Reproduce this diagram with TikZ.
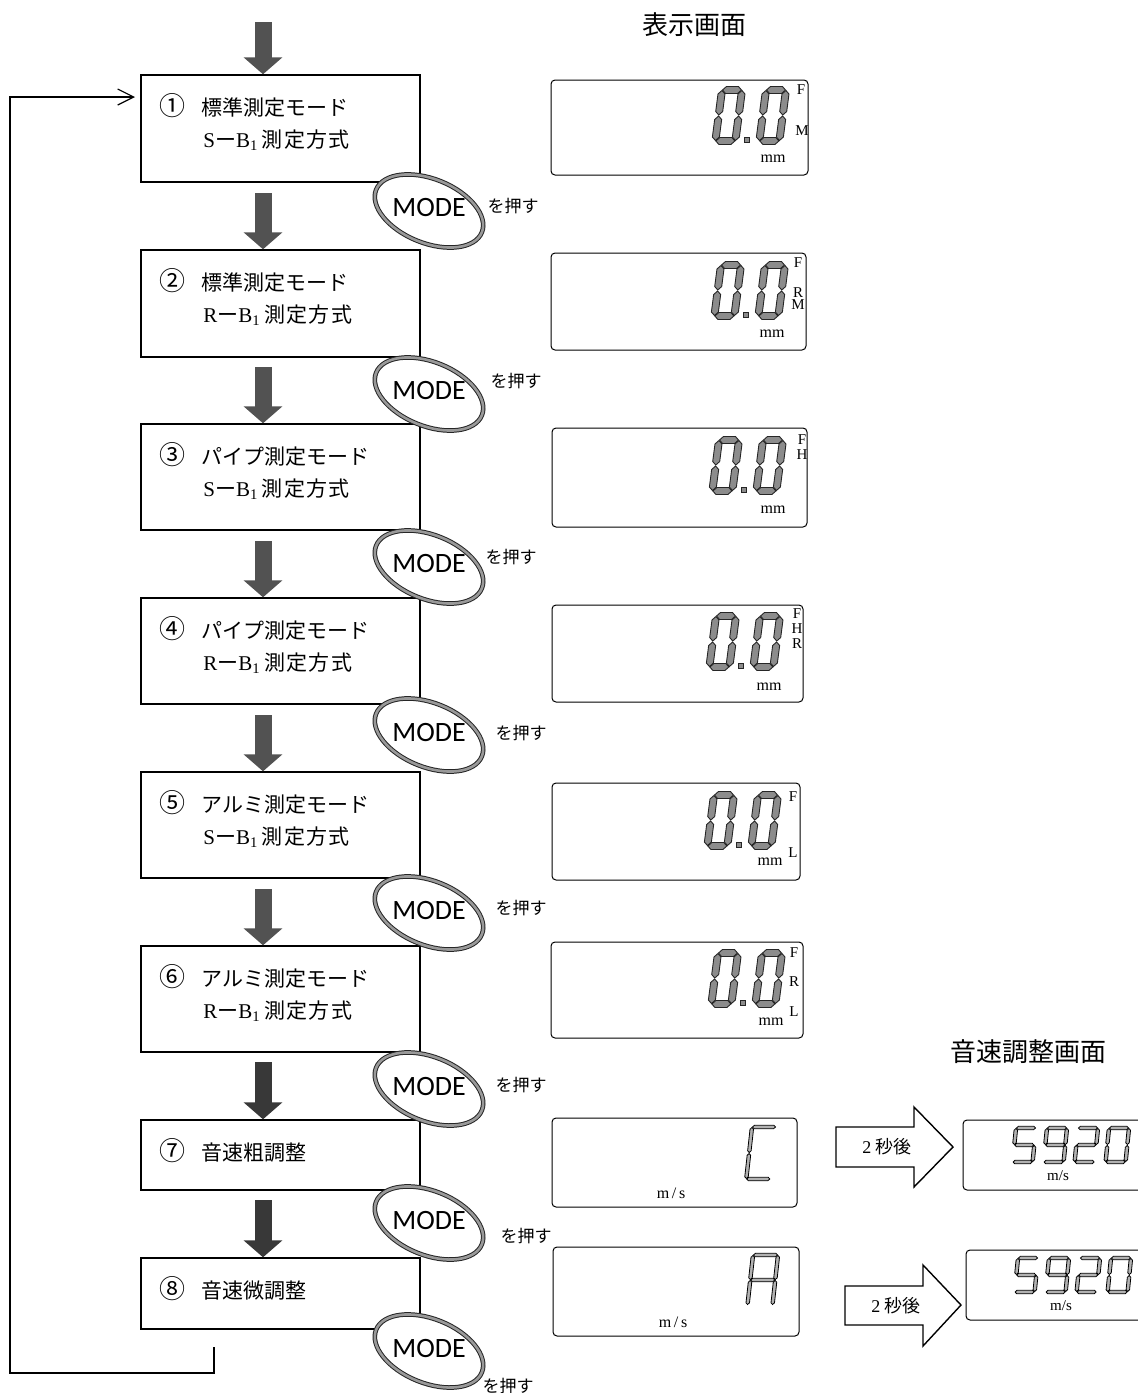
\documentclass[tikz,border=0pt]{standalone}
\usepackage{fontspec}
\setmainfont{Liberation Serif}
\newfontfamily\jp{Noto Sans CJK JP}
\newfontfamily\modefont{Carlito}
\usetikzlibrary{arrows.meta,shapes.geometric}

% seven-segment helpers
\newcommand\hsg[3]{\filldraw[segsty] (#1,#3) -- (#1+\sgh,#3-\sgh) -- (#2-\sgh,#3-\sgh) -- (#2,#3) -- (#2-\sgh,#3+\sgh) -- (#1+\sgh,#3+\sgh) -- cycle;}
\newcommand\vsg[3]{\filldraw[segsty] (#1,#2) -- (#1+\sgh,#2+\sgh) -- (#1+\sgh,#3-\sgh) -- (#1,#3) -- (#1-\sgh,#3-\sgh) -- (#1-\sgh,#2+\sgh) -- cycle;}
\def\sgsa{\hsg{\sgg}{\dW-\sgg}{0}}
\def\sgsb{\vsg{\dW}{\sgg}{\dH/2-\sgg}}
\def\sgsc{\vsg{\dW}{\dH/2+\sgg}{\dH-\sgg}}
\def\sgsd{\hsg{\sgg}{\dW-\sgg}{\dH}}
\def\sgse{\vsg{0}{\dH/2+\sgg}{\dH-\sgg}}
\def\sgsf{\vsg{0}{\sgg}{\dH/2-\sgg}}
\def\sgsg{\hsg{\sgg}{\dW-\sgg}{\dH/2}}
% #1 x, #2 y, #3 W, #4 H, #5 thickness, #6 slant, #7 segments, #8 style
\newcommand\sdig[8]{%
  \begin{scope}[shift={(#1,#2)}, xslant=#6]
    \tikzset{segsty/.style={#8}}
    \def\dW{#3}\def\dH{#4}\pgfmathsetmacro\sgh{#5/2}\def\sgg{0.5}
    \foreach \s in {#7}{\csname sgs\s\endcsname}
  \end{scope}}
% "0.0" display, origin of first digit
\newcommand\zerozero[2]{%
  \sdig{#1}{#2}{20}{51}{7}{0.13}{a,b,c,d,e,f}{lcdseg}
  \sdig{#1+44}{#2}{20}{51}{7}{0.13}{a,b,c,d,e,f}{lcdseg}
  \filldraw[lcdseg] (#1+22,#2+47) rectangle (#1+27,#2+52);}
\newcommand\fivenine[2]{%
  \sdig{#1}{#2}{20}{34}{3.5}{0.1}{a,c,d,f,g}{thinseg}
  \sdig{#1+31}{#2}{20}{34}{3.5}{0.1}{a,b,c,d,f,g}{thinseg}
  \sdig{#1+62}{#2}{20}{34}{3.5}{0.1}{a,b,d,e,g}{thinseg}
  \sdig{#1+93}{#2}{20}{34}{3.5}{0.1}{a,b,c,d,e,f}{thinseg}}
\newcommand\cnum[1]{{\fontsize{13}{12}\selectfont #1}\hspace{8pt}}
\newcommand\sokutei{{\jp\addfontfeature{LetterSpace=6}測定方式}}

\begin{document}
\begin{tikzpicture}[x=0.5pt,y=-0.5pt,
  box/.style={draw, line width=0.7pt, minimum width=139.5pt, inner sep=0pt, fill=white},
  fat/.style={line width=8.5pt, draw=black!68, -{Triangle[length=8.5pt,width=19pt]}},
  ell/.style={ellipse, draw=black!85, double=black!40, line width=0.5pt, double distance=1.3pt,
     fill=white, minimum width=57pt, minimum height=32pt, inner sep=0pt, rotate=-22},
  modetxt/.style={inner sep=0pt, font=\modefont\fontsize{14}{16}\selectfont},
  pushtxt/.style={inner sep=0pt, font=\jp\fontsize{8.5}{10}\selectfont},
  line1/.style={anchor=west, inner sep=0pt, font=\jp\fontsize{10.5}{12}\selectfont},
  line2/.style={anchor=west, inner sep=0pt, font=\fontsize{10.5}{12}\selectfont},
  panel/.style={draw, line width=0.5pt, rounded corners=2pt, inner sep=0pt},
  lab/.style={inner sep=0pt, font=\fontsize{7.5}{8}\selectfont},
  mmlab/.style={inner sep=0pt, font=\fontsize{8}{9}\selectfont},
  title/.style={inner sep=0pt, font=\jp\fontsize{13}{15}\selectfont},
  hollow/.style={draw, line width=0.7pt, fill=white},
  htxt/.style={inner sep=0pt, font=\fontsize{9}{10}\selectfont},
  loopln/.style={line width=0.6pt, -{Straight Barb[length=8pt,width=8pt]}},
  lcdseg/.style={fill=black!45, draw=black!85, line width=0.45pt},
  thinseg/.style={fill=black!30, draw=black, line width=0.4pt}]
\useasboundingbox (0,0) rectangle (1138,1393);
\clip (0,0) rectangle (1138,1393);
\fill[white] (0,0) rectangle (1138,1393);

% titles
\node[title] (t1) at (694,25) {表示画面};
\node[title] (t2) at (1028,1052) {音速調整画面};

% flow boxes
\node[box, minimum height=53.5pt] (b1) at (280.5,128.5) {};
\node[box, minimum height=53.5pt] (b2) at (280.5,303.5) {};
\node[box, minimum height=53pt] (b3) at (280.5,477) {};
\node[box, minimum height=53pt] (b4) at (280.5,651) {};
\node[box, minimum height=53pt] (b5) at (280.5,825) {};
\node[box, minimum height=53pt] (b6) at (280.5,999) {};
\node[box, minimum height=35pt] (b7) at (280.5,1155) {};
\node[box, minimum height=35.5pt] (b8) at (280.5,1293.5) {};

% fat arrows
\coordinate (s0) at (263,22);
\coordinate (s1) at (263,193);
\coordinate (s2) at (263,367);
\coordinate (s3) at (263,541);
\coordinate (s4) at (263,715);
\coordinate (s5) at (263,889);
\coordinate (s6) at (263,1062);
\coordinate (s7) at (263,1200);
\draw[fat] (s0) -- (s0 |- b1.north);
\draw[fat] (s1) -- (s1 |- b2.north);
\draw[fat] (s2) -- (s2 |- b3.north);
\draw[fat] (s3) -- (s3 |- b4.north);
\draw[fat] (s4) -- (s4 |- b5.north);
\draw[fat] (s5) -- (s5 |- b6.north);
\draw[fat, draw=black!78] (s6) -- (s6 |- b7.north);
\draw[fat, draw=black!78] (s7) -- (s7 |- b8.north);

% loop back
\coordinate (l0) at (214,1347);
\coordinate (l1) at (214,1373);
\coordinate (l2) at (10,1373);
\coordinate (l3) at (10,97);
\coordinate (l4) at (135,97);
\draw[loopln] (l0) -- (l1) -- (l2) -- (l3) -- (l4);

% box texts
\node[line1] (x1a) at (159,106) {\cnum{①}標準測定モード};
\node[line2] (x1b) at (203,140) {S{\jp ー}B\textsubscript{1}\,\sokutei};
\node[line1] (x2a) at (159,281) {\cnum{②}標準測定モード};
\node[line2] (x2b) at (203,315) {R{\jp ー}B\textsubscript{1}\,\sokutei};
\node[line1] (x3a) at (159,455) {\cnum{③}パイプ測定モード};
\node[line2] (x3b) at (203,489) {S{\jp ー}B\textsubscript{1}\,\sokutei};
\node[line1] (x4a) at (159,629) {\cnum{④}パイプ測定モード};
\node[line2] (x4b) at (203,663) {R{\jp ー}B\textsubscript{1}\,\sokutei};
\node[line1] (x5a) at (159,803) {\cnum{⑤}アルミ測定モード};
\node[line2] (x5b) at (203,837) {S{\jp ー}B\textsubscript{1}\,\sokutei};
\node[line1] (x6a) at (159,977) {\cnum{⑥}アルミ測定モード};
\node[line2] (x6b) at (203,1011) {R{\jp ー}B\textsubscript{1}\,\sokutei};
\node[line1] (x7a) at (159,1151) {\cnum{⑦}音速粗調整};
\node[line1] (x8a) at (159,1289) {\cnum{⑧}音速微調整};

% MODE ellipses
\foreach \i/\yy in {1/211,2/394,3/567,4/735,5/913,6/1089,7/1223,8/1351}{
  \node[ell] (e\i) at (429,\yy) {};
  \node[modetxt] (m\i) at (429,\yy-3) {MODE};
}
\node[pushtxt] (q1) at (513,206) {を押す};
\node[pushtxt] (q2) at (516,381) {を押す};
\node[pushtxt] (q3) at (511,557) {を押す};
\node[pushtxt] (q4) at (521,733) {を押す};
\node[pushtxt] (q5) at (521,908) {を押す};
\node[pushtxt] (q6) at (521,1085) {を押す};
\node[pushtxt] (q7) at (526,1236) {を押す};
\node[pushtxt] (q8) at (508,1386) {を押す};

% display panels
\node[panel, minimum width=128.5pt, minimum height=47.5pt] (p1) at (679.5,127.5) {};
\node[panel, minimum width=127.5pt, minimum height=48.5pt] (p2) at (678.5,301.5) {};
\node[panel, minimum width=127.5pt, minimum height=49.5pt] (p3) at (679.5,477.5) {};
\node[panel, minimum width=125.5pt, minimum height=48.5pt] (p4) at (677.5,653.5) {};
\node[panel, minimum width=124pt, minimum height=48.5pt] (p5) at (676,831.5) {};
\node[panel, minimum width=126pt, minimum height=48pt] (p6) at (677,990) {};
\node[panel, minimum width=122.5pt, minimum height=44.5pt] (p7) at (674.5,1162.5) {};
\node[panel, minimum width=123pt, minimum height=44.5pt] (p8) at (676,1291.5) {};
\node[panel, minimum width=98.5pt, minimum height=35pt] (r1) at (1061.5,1155) {};
\node[panel, minimum width=97pt, minimum height=35pt] (r2) at (1063,1285) {};

% digits
\zerozero{722}{90}
\zerozero{721}{265}
\zerozero{719}{440}
\zerozero{716}{616}
\zerozero{714}{795}
\zerozero{718}{953}
\sdig{752}{1127}{24}{52}{3.5}{0.11}{a,d,e,f}{thinseg}
\sdig{753}{1255}{25}{50}{3.5}{0.11}{a,b,c,e,f,g}{thinseg}
\fivenine{1016}{1128}
\fivenine{1018}{1258}

% panel labels
\node[lab] (f1) at (801,90) {F};
\node[lab] (f1m) at (802,131) {M};
\node[mmlab] (u1) at (773,159) {mm};
\node[lab] (f2) at (798,263) {F};
\node[lab] (f2r) at (798,293) {R};
\node[lab] (f2m) at (798,305) {M};
\node[mmlab] (u2) at (772,334) {mm};
\node[lab] (f3) at (802,440) {F};
\node[lab] (f3h) at (802,455) {H};
\node[mmlab] (u3) at (773,510) {mm};
\node[lab] (f4) at (797,614) {F};
\node[lab] (f4h) at (797,629) {H};
\node[lab] (f4r) at (797,644) {R};
\node[mmlab] (u4) at (769,687) {mm};
\node[lab] (f5) at (793,797) {F};
\node[lab] (f5l) at (793,853) {L};
\node[mmlab] (u5) at (770,862) {mm};
\node[lab] (f6) at (794,953) {F};
\node[lab] (f6r) at (794,982) {R};
\node[lab] (f6l) at (794,1012) {L};
\node[mmlab] (u6) at (771,1022) {mm};
\node[mmlab] (u7) at (671,1193) {m\,/\,s};
\node[mmlab] (u8) at (673,1322) {m\,/\,s};
\node[lab] (u9) at (1058,1176) {m/s};
\node[lab] (u10) at (1061,1306) {m/s};

% hollow arrows
\draw[hollow] (836,1127) -- (914,1127) -- (914,1107) -- (953,1147) -- (914,1187) -- (914,1167) -- (836,1167) -- cycle;
\node[htxt] (h1) at (887,1147) {2 {\jp 秒後}};
\draw[hollow] (845,1286) -- (923,1286) -- (923,1265) -- (961,1305) -- (923,1346) -- (923,1325) -- (845,1325) -- cycle;
\node[htxt] (h2) at (896,1306) {2 {\jp 秒後}};
\end{tikzpicture}
\end{document}
